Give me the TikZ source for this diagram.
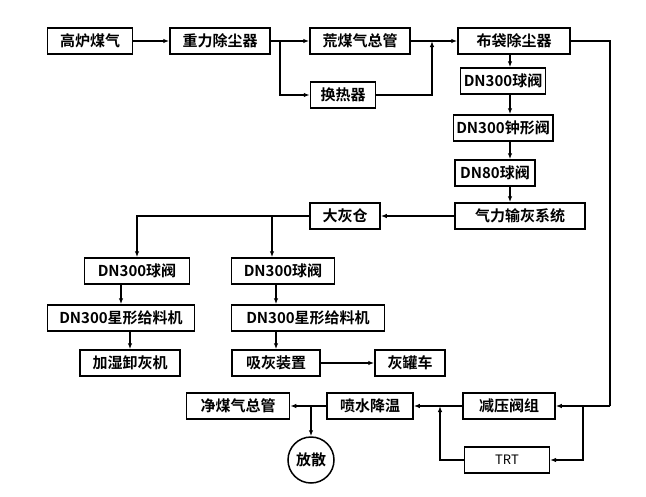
\documentclass[tikz,border=0pt]{standalone}
\usepackage{fontspec}
\setmainfont{Noto Sans CJK SC}[BoldFont={Noto Sans CJK SC Bold}]
\usetikzlibrary{arrows.meta}
\tikzset{
	box/.style={draw, line width=1.5pt, minimum height=26pt, inner sep=3pt, font=\fontsize{15}{15}\selectfont\bfseries},
	flow/.style={line width=1.2pt, -{Latex[length=6pt,width=4.5pt]}},
	pipe/.style={line width=1.2pt}
}
\begin{document}
\begin{tikzpicture}[x=1pt,y=-1pt]
	\useasboundingbox (0,0) rectangle (646,496);

	% upper train
	\node[box, minimum width=85pt] (gas) at (90,41) {高炉煤气};
	\node[box, minimum width=100pt] (grav) at (220,41) {重力除尘器};
	\node[box, minimum width=100pt] (raw) at (360,41) {荒煤气总管};
	\node[box, minimum width=65pt] (heat) at (343,95) {换热器};
	\node[box, minimum width=112pt] (bag) at (514,41) {布袋除尘器};
	\coordinate (split) at (280,41);
	\coordinate (join) at (432,41);

	\draw[flow] (gas) -- (grav);
	\draw[pipe] (grav) -- (split);
	\draw[flow] (split) -- (raw);
	\draw[flow] (split) |- (heat);
	\draw[pipe] (raw) -- (join);
	\draw[flow] (join) -- (bag);
	\draw[flow] (heat) -| (join);

	% ash column
	\node[box, minimum width=85pt] (v1) at (503,81) {DN300球阀};
	\node[box, minimum width=97pt] (v2) at (503,128) {DN300钟形阀};
	\node[box, minimum width=80pt] (v3) at (495,173) {DN80球阀};
	\node[box, minimum width=130pt] (conv) at (520,216) {气力输灰系统};
	\foreach \a/\b in {bag/v1, v1/v2, v2/v3, v3/conv}
		\draw[flow] (\a.south -| 510,0) -- (\b.north -| 510,0);

	\node[box, minimum width=70pt] (silo) at (345,216) {大灰仓};
	\draw[flow] (conv) -- (silo);

	\node[box, minimum width=105pt] (la) at (137,271) {DN300球阀};
	\node[box, minimum width=147pt] (lb) at (121,318) {DN300星形给料机};
	\node[box, minimum width=100pt] (lc) at (130,363) {加湿卸灰机};
	\node[box, minimum width=103pt] (ma) at (283,271) {DN300球阀};
	\node[box, minimum width=153pt] (mb) at (308,318) {DN300星形给料机};
	\node[box, minimum width=88pt] (mc) at (276,363) {吸灰装置};
	\node[box, minimum width=70pt] (truck) at (410,363) {灰罐车};

	\draw[flow] (silo) -| (la);
	\draw[flow] (silo.west -| 272,0) -- (ma.north -| 272,0);
	\draw[flow] (la.south -| 121,0) -- (lb);
	\draw[flow] (lb.south -| 130,0) -- (lc);
	\draw[flow] (ma.south -| 276,0) -- (mb.north -| 276,0);
	\draw[flow] (mb.south -| 276,0) -- (mc);
	\draw[flow] (mc) -- (truck);

	% clean gas train
	\node[box, minimum width=103pt] (clean) at (238,406) {净煤气总管};
	\node[box, minimum width=86pt] (spray) at (370,406) {喷水降温};
	\node[box, minimum width=92pt] (prv) at (509,406) {减压阀组};
	\node[box, line width=1.2pt, minimum width=85pt, font=\fontsize{13}{13}\selectfont] (trt) at (507,460) {TRT};
	\node[draw, circle, line width=1.5pt, minimum size=46pt, inner sep=0pt, font=\fontsize{15}{15}\selectfont\bfseries] (vent) at (311,460) {放散};
	\coordinate (rise) at (610,406);
	\coordinate (tap) at (583,406);
	\coordinate (merge) at (440,406);
	\coordinate (vtap) at (311,406);

	\draw[pipe] (bag.east) -| (rise);
	\draw[flow] (rise) -- (prv);
	\draw[flow] (tap) |- (trt);
	\draw[pipe] (prv) -- (merge);
	\draw[flow] (merge) -- (spray);
	\draw[flow] (trt) -| (merge);
	\draw[pipe] (spray) -- (vtap);
	\draw[flow] (vtap) -- (clean);
	\draw[flow] (vtap) -- (vent);
\end{tikzpicture}
\end{document}
